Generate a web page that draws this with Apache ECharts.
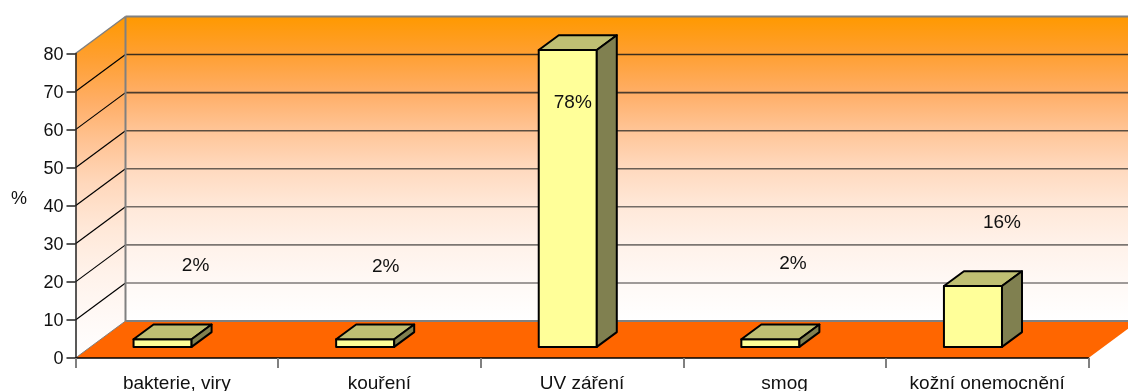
<!DOCTYPE html>
<html>
<head>
<meta charset="utf-8">
<style>html,body{margin:0;padding:0;background:#fff}#chart{width:1128px;height:391px}</style>
<script src="https://cdn.jsdelivr.net/npm/echarts@6/dist/echarts.min.js"></script>
</head>
<body>
<div id="chart"></div>
<script>
// Chart content
const categories = ['bakterie, viry', 'kouření', 'UV záření', 'smog', 'kožní onemocnění'];
const values = [2, 2, 78, 2, 16];
const valueLabels = ['2%', '2%', '78%', '2%', '16%'];
const yLevels = [10, 20, 30, 40, 50, 60, 70];
const yTitle = '%';

// Oblique 3D projection: pixel shift from the front plane to the back wall
const DEPTH = { x: 50, y: -37 };
const BAR_DEPTH_START = 0.3;
const BAR_DEPTH_SIZE = 0.4;
const BAR_LEFT = 0.2865;   // share of a category band
const BAR_WIDTH = 0.2865;
const FONT = '19px "Liberation Sans", Arial, sans-serif';

// Label shift from the middle of each bar's front top edge
const labelShift = [[33, -73.3], [20.5, -72.3], [5, 52.5], [22.5, -75.3], [29, -63]];
// Wall gridline tint, bottom level to top level
const gridTint = ['#7f7a78', '#7c7672', '#746c66', '#6a5e54', '#5c4e40', '#4c3c2c', '#3c2e1c'];

const wallStops = [
  [0, '#FF9900'], [0.12, '#FF9F30'], [0.25, '#FFAE66'], [0.37, '#FFC495'], [0.49, '#FFD8BC'],
  [0.62, '#FFE8D8'], [0.75, '#FFF2EA'], [0.88, '#FFF9F6'], [1, '#FFFFFF']
].map(([offset, color]) => ({ offset, color }));
const wallFill = () => new echarts.graphic.LinearGradient(0, 0, 0, 1, wallStops);

const line = (x1, y1, x2, y2, stroke, lineWidth) => ({
  type: 'line', shape: { x1, y1, x2, y2 }, style: { stroke, lineWidth }
});
const poly = (points, fill, extra) => ({
  type: 'polygon', shape: { points }, style: Object.assign({ fill }, extra || {})
});

function renderRoom(params, api) {
  const band = api.size([1, 0])[0];
  const left = api.coord([0, 0])[0] - band / 2;
  const right = api.coord([categories.length - 1, 0])[0] + band / 2;
  const y0 = api.coord([0, 0])[1];
  const yTop = api.coord([0, 80])[1];
  const backL = left + DEPTH.x, backR = right + DEPTH.x;
  const wallGray = '#808080';
  const children = [
    poly([[backL, yTop + DEPTH.y], [backR, yTop + DEPTH.y], [backR, y0 + DEPTH.y], [backL, y0 + DEPTH.y]], wallFill()),
    poly([[left, yTop], [backL, yTop + DEPTH.y], [backL, y0 + DEPTH.y], [left, y0]], wallFill()),
    poly([[left, y0], [right, y0], [backR, y0 + DEPTH.y], [backL, y0 + DEPTH.y]], '#FF6600')
  ];
  yLevels.forEach((level, i) => {
    const y = api.coord([0, level])[1];
    children.push(line(left, y, backL, y + DEPTH.y, '#000', 1.2));
    children.push(line(backL, y + DEPTH.y, backR, y + DEPTH.y, gridTint[i], 1.6));
  });
  children.push(
    line(left, yTop, backL, yTop + DEPTH.y, wallGray, 1.5),
    line(left, y0, backL, y0 + DEPTH.y, wallGray, 1),
    line(backL, yTop + DEPTH.y, backR, yTop + DEPTH.y, wallGray, 2),
    line(backL, y0 + DEPTH.y, backR, y0 + DEPTH.y, wallGray, 2),
    line(backL, yTop + DEPTH.y, backL, y0 + DEPTH.y, wallGray, 2),
    {
      // Axis title, left of the tick labels and a little above the axis middle
      type: 'text',
      style: {
        x: left - 56.5,
        y: (y0 + yTop) / 2 - 7,
        text: yTitle,
        align: 'center',
        verticalAlign: 'middle',
        font: '18px "Liberation Sans", Arial, sans-serif',
        fill: '#111'
      }
    }
  );
  return { type: 'group', children };
}

function renderBar(params, api) {
  const i = api.value(0);
  const band = api.size([1, 0])[0];
  const base = api.coord([i, 0]);
  const top = api.coord([i, api.value(1)]);
  const catLeft = base[0] - band / 2;
  const x1 = catLeft + band * BAR_LEFT;
  const x2 = x1 + band * BAR_WIDTH;
  const yb = base[1] + DEPTH.y * BAR_DEPTH_START;
  const yt = top[1] + DEPTH.y * BAR_DEPTH_START;
  const dx = DEPTH.x * BAR_DEPTH_SIZE, dy = DEPTH.y * BAR_DEPTH_SIZE;
  const edge = { stroke: '#000', lineWidth: 2, lineJoin: 'round' };
  return {
    type: 'group',
    children: [
      poly([[x1, yb], [x2, yb], [x2, yt], [x1, yt]], '#FFFF99', edge),
      poly([[x1, yt], [x2, yt], [x2 + dx, yt + dy], [x1 + dx, yt + dy]], '#BFBF73', edge),
      poly([[x2, yb], [x2 + dx, yb + dy], [x2 + dx, yt + dy], [x2, yt]], '#808050', edge),
      {
        type: 'text',
        style: {
          x: (x1 + x2) / 2 + labelShift[i][0],
          y: yt + labelShift[i][1],
          text: valueLabels[i],
          align: 'center',
          verticalAlign: 'middle',
          font: FONT,
          fill: '#111'
        }
      }
    ]
  };
}

const chart = echarts.init(document.getElementById('chart'));
chart.setOption({
  animation: false,
  backgroundColor: '#fff',
  grid: { left: 75.5, right: 39.5, top: 53.5, bottom: 33, outerBoundsMode: 'none' },
  xAxis: {
    type: 'category',
    data: categories,
    z: 5,
    axisLine: { lineStyle: { color: '#000', width: 1.5 } },
    axisTick: { show: true, length: 10, lineStyle: { color: '#808080', width: 2 } },
    axisLabel: { fontFamily: 'Liberation Sans', fontSize: 19, color: '#111', margin: 16, interval: 0 }
  },
  yAxis: {
    type: 'value',
    min: 0,
    max: 80,
    interval: 10,
    z: 5,
    axisLine: { show: true, lineStyle: { color: '#222', width: 1.5 } },
    axisTick: { show: true, length: 9, lineStyle: { color: '#222', width: 1.5 } },
    axisLabel: { fontFamily: 'Liberation Sans', fontSize: 18, color: '#111', margin: 12, verticalAlign: 'top', lineHeight: 3 },
    splitLine: { show: false }
  },
  series: [
    { type: 'custom', z: 1, silent: true, clip: false, renderItem: renderRoom, data: [[0, 0]], encode: { x: 0, y: 1 } },
    { type: 'custom', z: 3, silent: true, clip: false, renderItem: renderBar, data: categories.map((c, i) => [i, values[i]]), encode: { x: 0, y: 1 } }
  ]
});
</script>
</body>
</html>
